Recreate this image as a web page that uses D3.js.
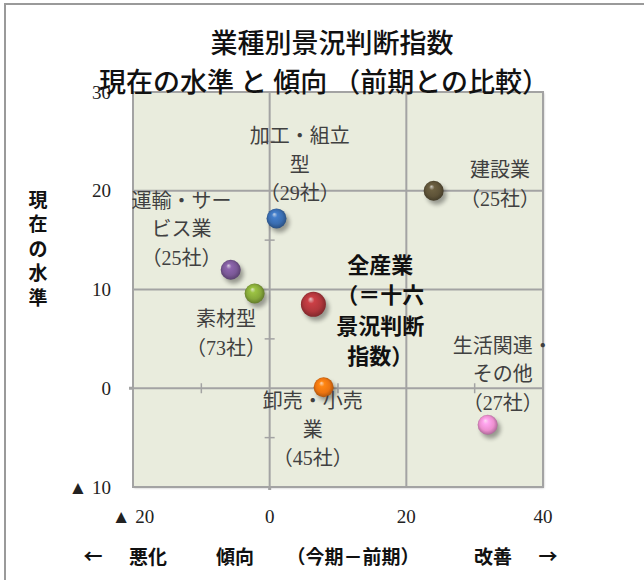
<!DOCTYPE html>
<html>
<head>
<meta charset="utf-8">
<script src="https://cdn.jsdelivr.net/npm/d3@7"></script>
<style>
  body { margin: 0; background: #fff; }
  svg { display: block; }
</style>
</head>
<body>
<svg id="chart"></svg>
<script>
// data
const sectors = ["加工・組立型", "運輸・サービス業", "素材型", "全産業", "卸売・小売業", "建設業", "生活関連・その他"];
const trend = [1.0, -5.7, -2.2, 6.4, 7.9, 24.0, 31.9];   // 今期－前期
const level = [17.2, 12.0, 9.6, 8.5, 0.1, 20.0, -3.7];    // 現在の水準
const labelLines = [
  ["加工・組立", "型", "（29社）"],
  ["運輸・サー", "ビス業", "（25社）"],
  ["素材型", "（73社）"],
  ["全産業", "（＝十六", "景況判断", "指数）"],
  ["卸売・小売", "業", "（45社）"],
  ["建設業", "（25社）"],
  ["生活関連・", "その他", "（27社）"]
];
const ballColors = ["#3a6db0", "#7a5896", "#86a83a", "#b0373c", "#ec7410", "#5e5338", "#ec8fcf"];
const xTicks = [-20, 0, 20, 40];
const yTicks = [-10, 0, 10, 20, 30];
const xMinor = [-10, 10, 30];
const yMinor = [-5, 5, 15, 25];

// label anchors (data units, first line centre)
const labelAt = [[4.4, 25.5], [-12.9, 19.0], [-6.4, 7.0], [16.2, 12.7], [6.3, -1.3], [33.7, 22.1], [34.1, 4.3]];

const W = 644, H = 580;
const svg = d3.select("#chart").attr("width", W).attr("height", H);
const serif = "'Liberation Serif', 'Times New Roman', 'DejaVu Serif', 'Noto Sans CJK JP', serif";
const gothic = "'Noto Sans CJK JP', sans-serif";

const x = d3.scaleLinear().domain([-20, 40]).range([133, 543]);
const y = d3.scaleLinear().domain([-10, 30]).range([487, 92]);

const defs = svg.append("defs");
defs.append("filter").attr("id", "blur")
  .attr("x", "-50%").attr("y", "-50%").attr("width", "200%").attr("height", "200%")
  .append("feGaussianBlur").attr("stdDeviation", 2.2);
defs.append("filter").attr("id", "frameShadow")
  .append("feGaussianBlur").attr("stdDeviation", 1);

ballColors.forEach((c, i) => {
  const g = defs.append("radialGradient").attr("id", `ball${i}`)
    .attr("cx", "50%").attr("cy", "50%").attr("r", "55%")
    .attr("fx", "38%").attr("fy", "28%");
  const base = d3.color(c);
  g.append("stop").attr("offset", "0%").attr("stop-color", d3.interpolateRgb(c, "#fff")(0.7));
  g.append("stop").attr("offset", "25%").attr("stop-color", base.brighter(0.4));
  g.append("stop").attr("offset", "65%").attr("stop-color", c);
  g.append("stop").attr("offset", "100%").attr("stop-color", base.darker(1.1));
});

// outer frame
svg.append("rect").attr("x", 5).attr("y", 4).attr("width", 800).attr("height", 800)
  .attr("fill", "none").attr("stroke", "#9a9a9a").attr("stroke-width", 2);

// plot area
svg.append("rect")
  .attr("x", x(-20) + 1).attr("y", y(30) + 1)
  .attr("width", x(40) - x(-20)).attr("height", y(-10) - y(30))
  .attr("fill", "#b8b8b8").attr("filter", "url(#frameShadow)");
svg.append("rect")
  .attr("x", x(-20)).attr("y", y(30))
  .attr("width", x(40) - x(-20)).attr("height", y(-10) - y(30))
  .attr("fill", "#e9ecdd").attr("stroke", "#a3a3a3").attr("stroke-width", 2);

const grid = svg.append("g").attr("stroke", "#a3a3a3").attr("stroke-width", 2);
grid.selectAll(".gx").data([0, 20]).join("line")
  .attr("x1", d => x(d)).attr("x2", d => x(d)).attr("y1", y(30)).attr("y2", y(-10));
grid.selectAll(".gy").data([0, 10, 20]).join("line").attr("class", "gy")
  .attr("y1", d => y(d)).attr("y2", d => y(d)).attr("x1", x(-20)).attr("x2", x(40));

// tick marks on the zero lines
const tk = svg.append("g").attr("stroke", "#a3a3a3").attr("stroke-width", 1.5);
tk.selectAll(".tx").data(xMinor).join("line").attr("class", "tx")
  .attr("x1", d => x(d)).attr("x2", d => x(d)).attr("y1", y(0) - 5).attr("y2", y(0) + 5);
tk.selectAll(".ty").data(yMinor).join("line").attr("class", "ty")
  .attr("y1", d => y(d)).attr("y2", d => y(d)).attr("x1", x(0) - 5).attr("x2", x(0) + 5);
tk.append("line").attr("x1", x(-20) - 4).attr("x2", x(-20)).attr("y1", y(0)).attr("y2", y(0)).attr("stroke-width", 3);
tk.append("line").attr("x1", x(0)).attr("x2", x(0)).attr("y1", y(-10)).attr("y2", y(-10) + 3).attr("stroke-width", 3);

// tick labels
const fmt = v => v < 0 ? `▲ ${Math.abs(v)}` : `${v}`;
svg.append("g").selectAll("text").data(xTicks).join("text")
  .attr("x", d => x(d)).attr("y", 516)
  .attr("text-anchor", "middle").attr("dominant-baseline", "central")
  .attr("font-family", serif).attr("font-size", 19).attr("fill", "#222")
  .text(fmt);
svg.append("g").selectAll("text").data(yTicks).join("text")
  .attr("x", 111).attr("y", d => y(d))
  .attr("text-anchor", "end").attr("dominant-baseline", "central")
  .attr("font-family", serif).attr("font-size", 19).attr("fill", "#222")
  .text(fmt);

// balls
const idx = d3.range(sectors.length);
const r = i => sectors[i] === "全産業" ? 12.5 : 10;
svg.append("g").selectAll("circle").data(idx).join("circle")
  .attr("cx", i => x(trend[i]) + 3).attr("cy", i => y(level[i]) + 4)
  .attr("r", r).attr("fill", "#000").attr("opacity", 0.35).attr("filter", "url(#blur)");
svg.append("g").selectAll("circle").data(idx).join("circle")
  .attr("cx", i => x(trend[i])).attr("cy", i => y(level[i]))
  .attr("r", r).attr("fill", i => `url(#ball${i})`)
  .append("title").text(i => `${sectors[i]}: ${trend[i]}, ${level[i]}`);

// point labels
idx.forEach(i => {
  const bold = sectors[i] === "全産業";
  const step = bold ? 30.5 : 28.5;
  svg.append("text")
    .attr("text-anchor", "middle")
    .attr("font-family", bold ? gothic : serif)
    .attr("font-weight", bold ? "bold" : "normal")
    .attr("font-size", bold ? 22 : 20)
    .attr("fill", bold ? "#111" : "#404040")
    .selectAll("tspan").data(labelLines[i]).join("tspan")
    .attr("x", x(labelAt[i][0]))
    .attr("y", (d, k) => y(labelAt[i][1]) + k * step)
    .attr("dominant-baseline", "central")
    .text(d => d);
});

// axis titles
svg.append("text")
  .attr("text-anchor", "middle").attr("font-family", gothic).attr("font-weight", "bold")
  .attr("font-size", 19).attr("fill", "#111")
  .selectAll("tspan").data(["現", "在", "の", "水", "準"]).join("tspan")
  .attr("x", 38).attr("y", (d, k) => 198 + k * 24.5).attr("dominant-baseline", "central")
  .text(d => d);

const xTitle = [["←", 93], ["悪化", 148], ["傾向", 235], ["（今期－前期）", 353], ["改善", 493], ["→", 548]];
svg.append("g").selectAll("text").data(xTitle).join("text")
  .attr("x", d => d[1]).attr("y", 555)
  .attr("text-anchor", "middle").attr("dominant-baseline", "central")
  .attr("font-family", gothic).attr("font-weight", "bold").attr("font-size", 19).attr("fill", "#111")
  .text(d => d[0]);

// title
const title = svg.append("text").attr("text-anchor", "middle")
  .attr("font-family", gothic).attr("font-weight", 500).attr("font-size", 27).attr("fill", "#111");
title.append("tspan").attr("x", 332).attr("y", 41).attr("dominant-baseline", "central").text("業種別景況判断指数");
title.append("tspan").attr("x", 324).attr("y", 80).attr("dominant-baseline", "central").text("現在の水準 と 傾向 （前期との比較）");
</script>
</body>
</html>
